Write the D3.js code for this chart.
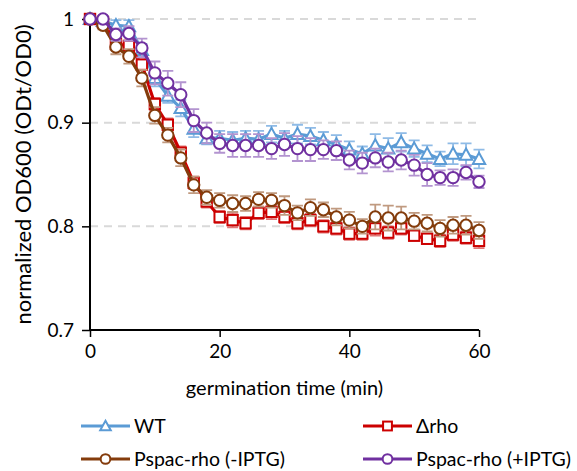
<!DOCTYPE html>
<html><head><meta charset="utf-8">
<script src="https://cdn.jsdelivr.net/npm/d3@7"></script>
<style>body{margin:0;background:#fff}svg{display:block}text{font-family:Lato,"Open Sans",sans-serif;fill:#000}</style>
</head><body><svg id="c" width="577" height="471"></svg>
<script>
const time = [0,2,4,6,8,10,12,14,16,18,20,22,24,26,28,30,32,34,36,38,40,42,44,46,48,50,52,54,56,58,60];
const wt     = [1.000,0.998,0.994,0.993,0.970,0.943,0.926,0.914,0.894,0.885,0.885,0.883,0.885,0.884,0.889,0.885,0.889,0.887,0.883,0.879,0.874,0.870,0.878,0.875,0.881,0.875,0.870,0.865,0.870,0.869,0.865];
const wtErr  = [0,0.003,0.005,0.006,0.006,0.008,0.007,0.008,0.008,0.006,0.007,0.008,0.007,0.008,0.008,0.007,0.009,0.008,0.008,0.009,0.008,0.007,0.011,0.010,0.009,0.008,0.008,0.007,0.010,0.011,0.009];
const drho   = [1.000,0.997,0.976,0.974,0.956,0.918,0.898,0.871,0.842,0.824,0.809,0.806,0.803,0.813,0.814,0.809,0.803,0.806,0.800,0.798,0.793,0.793,0.798,0.794,0.798,0.791,0.788,0.786,0.792,0.789,0.786];
const drhoErr= [0,0.003,0.004,0.005,0.005,0.006,0.006,0.006,0.006,0.006,0.006,0.007,0.006,0.006,0.007,0.006,0.006,0.006,0.006,0.006,0.006,0.006,0.007,0.006,0.006,0.005,0.005,0.006,0.006,0.006,0.007];
const minus  = [1.000,0.994,0.973,0.964,0.943,0.907,0.888,0.866,0.840,0.828,0.825,0.822,0.822,0.826,0.825,0.820,0.813,0.818,0.816,0.809,0.806,0.800,0.809,0.808,0.808,0.805,0.803,0.798,0.801,0.801,0.796];
const minusErr=[0,0.004,0.007,0.007,0.008,0.008,0.007,0.008,0.008,0.007,0.007,0.008,0.007,0.007,0.007,0.009,0.007,0.008,0.007,0.008,0.008,0.007,0.012,0.012,0.011,0.008,0.008,0.008,0.008,0.009,0.008];
const plus   = [1.000,1.000,0.985,0.986,0.972,0.948,0.938,0.927,0.902,0.890,0.880,0.878,0.878,0.878,0.875,0.879,0.875,0.874,0.874,0.873,0.864,0.861,0.866,0.862,0.864,0.859,0.850,0.847,0.847,0.852,0.843];
const plusErr= [0,0.003,0.006,0.007,0.009,0.011,0.012,0.012,0.011,0.010,0.009,0.011,0.011,0.011,0.010,0.011,0.012,0.011,0.009,0.009,0.009,0.010,0.009,0.009,0.009,0.010,0.011,0.007,0.008,0.007,0.006];
const seriesNames = ["WT","\u0394rho","Pspac-rho (-IPTG)","Pspac-rho (+IPTG)"];
const yTicks = [0.7,0.8,0.9,1];
const xTicks = [0,20,40,60];

const series = [
  {name:seriesNames[0], v:wt, e:wtErr, color:"#5b9bd5", err:"#8fbbe6", shape:"tri"},
  {name:seriesNames[1], v:drho, e:drhoErr, color:"#cc0000", err:"#e07777", shape:"sq"},
  {name:seriesNames[2], v:minus, e:minusErr, color:"#843c0c", err:"#c09a80", shape:"circ"},
  {name:seriesNames[3], v:plus, e:plusErr, color:"#7030a0", err:"#b394d0", shape:"circ"}
];

const svg = d3.select("#c");
const x = d3.scaleLinear().domain([0,60]).range([90,479]);
const y = d3.scaleLinear().domain([0.7,1]).range([330,19]);

svg.append("g").selectAll("line").data(yTicks.filter(d=>d>0.7)).join("line")
  .attr("x1",x(0)).attr("x2",x(60)).attr("y1",d=>y(d)).attr("y2",d=>y(d))
  .attr("stroke","#d9d9d9").attr("stroke-width",2).attr("stroke-dasharray","8,6");

const ya = svg.append("g").attr("transform",`translate(${x(0)},0)`)
  .call(d3.axisLeft(y).tickValues(yTicks).tickFormat(d=>d===1?"1":d3.format(".1f")(d)).tickSize(8).tickPadding(8));
const xa = svg.append("g").attr("transform",`translate(0,${y(0.7)})`)
  .call(d3.axisBottom(x).tickValues(xTicks).tickSize(7).tickPadding(8));
[ya,xa].forEach(a=>{
  a.select(".domain").attr("stroke","#000").attr("stroke-width",2);
  a.selectAll(".tick line").attr("stroke","#000").attr("stroke-width",1.5);
  a.selectAll("text").style("font-size","19px").style("font-family","Lato");
});
xa.select(".domain").attr("d",`M${x(0)},0H${x(60)}`);
ya.select(".domain").attr("d",`M0,${y(0.7)}V${y(1)}`);

function marker(g, shape, cx, cy, color, s){
  if(shape==="circ"){
    g.append("circle").attr("cx",cx).attr("cy",cy).attr("r",5.7*s).attr("fill","#fff").attr("stroke",color).attr("stroke-width",2);
  } else if(shape==="sq"){
    g.append("rect").attr("x",cx-5.2*s).attr("y",cy-5.2*s).attr("width",10.4*s).attr("height",10.4*s).attr("fill","#fff").attr("stroke",color).attr("stroke-width",2);
  } else {
    const h=6.2*s;
    g.append("path").attr("d",`M${cx},${cy-h}L${cx+h},${cy+h*0.8}L${cx-h},${cy+h*0.8}Z`).attr("fill","#fff").attr("stroke",color).attr("stroke-width",2);
  }
}

const line = d3.line().x((d,i)=>x(time[i])).y(d=>y(d));
series.forEach(s=>{
  const g = svg.append("g");
  s.v.forEach((v,i)=>{
    if(!s.e[i]) return;
    const cx=x(time[i]), t=y(v+s.e[i]), b=y(v-s.e[i]);
    g.append("path").attr("d",`M${cx},${t}V${b}M${cx-5.5},${t}H${cx+5.5}M${cx-5.5},${b}H${cx+5.5}`)
      .attr("stroke",s.err).attr("stroke-width",1.8).attr("fill","none");
  });
  g.append("path").datum(s.v).attr("d",line).attr("fill","none").attr("stroke",s.color).attr("stroke-width",3.2).attr("stroke-linejoin","round");
  s.v.forEach((v,i)=>marker(g,s.shape,x(time[i]),y(v),s.color,1));
});

svg.append("text").attr("x",(x(0)+x(60))/2).attr("y",395).attr("text-anchor","middle").style("font-size","20px").text("germination time (min)");
svg.append("text").attr("transform",`translate(31,${(y(0.7)+y(1))/2}) rotate(-90)`).attr("text-anchor","middle").style("font-size","22px").text("normalized OD600 (ODt/OD0)");

const legPos = [[81,426],[363,426],[81,459],[363,459]];
series.forEach((s,i)=>{
  const [lx,ly]=legPos[i];
  const g=svg.append("g");
  g.append("line").attr("x1",lx).attr("x2",lx+49).attr("y1",ly).attr("y2",ly).attr("stroke",s.color).attr("stroke-width",3.2);
  marker(g,s.shape,lx+24.5,ly,s.color,0.85);
  const t = g.append("text").attr("x",lx+53).attr("y",ly).attr("dy","0.35em").style("font-size","19.5px").text(s.name);
  let fs = 19.5;
  while (lx+53+t.node().getComputedTextLength() > 572 && fs > 14) { fs -= 0.5; t.style("font-size", fs+"px"); }
});
</script></body></html>
